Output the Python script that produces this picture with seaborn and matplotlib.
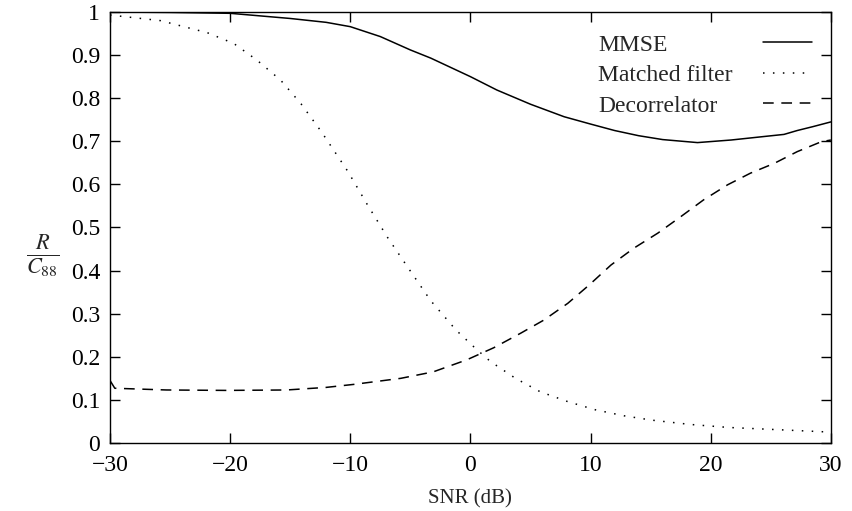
import pandas as pd
import seaborn as sns
import matplotlib
matplotlib.use('Agg')
import matplotlib.pyplot as plt
from matplotlib.ticker import FuncFormatter, MultipleLocator

sns.set_theme(style="ticks")
plt.rcParams['font.family'] = ['Liberation Serif', 'DejaVu Serif']
plt.rcParams['mathtext.fontset'] = 'stix'

# data
mmse_snr = [-30, -25, -20, -15, -12, -10, -7.5, -5, -3.3, 0, 2.2, 5, 7.8, 10,
            12, 14, 16, 18.9, 21.7, 24.4, 26.1, 27.2, 28.5, 30]
mmse_r = [1.0, 0.999, 0.997, 0.985, 0.976, 0.966, 0.943, 0.912, 0.893, 0.85, 0.819,
          0.786, 0.757, 0.740, 0.725, 0.713, 0.704, 0.697, 0.703, 0.711, 0.716,
          0.725, 0.734, 0.745]

mf_snr = [-30, -25.8, -21.9, -19.7, -17.8, -15.8, -14.1, -12.4, -10.2, -8.6, -6.9,
          -5.1, -3.3, -1.2, 0.4, 1.67, 3.75, 5.8, 8.1, 10.4, 12.8, 15.1, 18.3,
          21.5, 24.7, 29.4, 30]
mf_r = [0.993, 0.98, 0.952, 0.927, 0.889, 0.842, 0.787, 0.722, 0.63, 0.554, 0.477,
        0.403, 0.33, 0.262, 0.22, 0.189, 0.15, 0.119, 0.096, 0.077, 0.063, 0.053,
        0.043, 0.036, 0.032, 0.026, 0.025]

dec_snr = [-30, -29.6, -25.3, -20.3, -15.3, -12, -9.7, -5.8, -3.1, -0.3, 1.94, 4.2,
           6.1, 8.1, 9.9, 11.7, 13.6, 15.6, 17.5, 19.4, 21.4, 23.3, 25.3, 27.2,
           29.2, 30]
dec_r = [0.145, 0.127, 0.123, 0.122, 0.123, 0.129, 0.136, 0.150, 0.165, 0.193, 0.221,
         0.255, 0.285, 0.324, 0.367, 0.413, 0.452, 0.487, 0.525, 0.564, 0.599, 0.626,
         0.649, 0.676, 0.699, 0.703]

series = [
    ('MMSE', mmse_snr, mmse_r, None),
    ('Matched filter', mf_snr, mf_r, (1, 5.5)),
    ('Decorrelator', dec_snr, dec_r, (7, 5)),
]

fig = plt.figure(figsize=(8.52, 5.11), dpi=100)
ax = fig.add_axes([0.1291, 0.1331, 0.8461, 0.8434])

for name, xs, ys, dash in series:
    df = pd.DataFrame({'snr': xs, 'r': ys})
    sns.lineplot(data=df, x='snr', y='r', ax=ax, color='black',
                 linewidth=1.1, label=name)
    if dash is not None:
        ax.get_lines()[-1].set_dashes(dash)

ax.set_xlim(-30, 30)
ax.set_ylim(0, 1)
ax.xaxis.set_major_locator(MultipleLocator(10))
ax.yaxis.set_major_locator(MultipleLocator(0.1))
ax.yaxis.set_major_formatter(FuncFormatter(lambda v, p: '%g' % round(v, 2)))
ax.tick_params(direction='in', length=7, width=1, top=True, right=True,
               labelsize=17, pad=7, colors='black')
ax.tick_params(axis='x', pad=9)
for s in ax.spines.values():
    s.set_color('black')
    s.set_linewidth(1)

ax.set_xlabel('SNR (dB)', fontsize=15, labelpad=9)
ax.set_ylabel(r'$\frac{R}{C_{88}}$', fontsize=23, rotation=0, va='center')
ax.yaxis.set_label_coords(-0.093, 0.435)

leg = ax.legend(loc='upper right', bbox_to_anchor=(0.974, 0.949), frameon=False,
                markerfirst=False, borderpad=0, borderaxespad=0, fontsize=17,
                handlelength=2.1, handletextpad=1.27, labelspacing=0.38)

# gnuplot style key: labels left aligned, samples on the right
fig.canvas.draw()
renderer = fig.canvas.get_renderer()
col = leg._legend_handle_box.get_children()[0]
col.align = 'left'
widths = [t.get_window_extent(renderer).width for t in leg.get_texts()]
maxw = max(widths)
for row, w in zip(col.get_children(), widths):
    row.sep = 1.27 * 17 + (maxw - w) * 72 / fig.dpi

fig.savefig('out.png', dpi=100)
